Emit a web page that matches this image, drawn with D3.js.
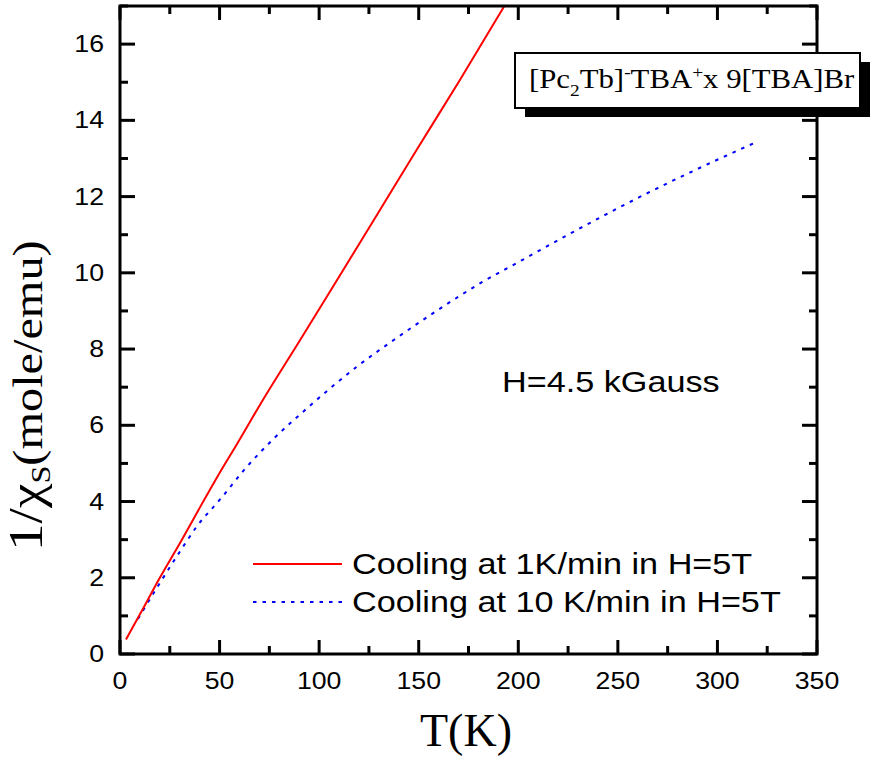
<!DOCTYPE html>
<html>
<head>
<meta charset="utf-8">
<script src="https://cdn.jsdelivr.net/npm/d3@7"></script>
<style>
  body { margin: 0; background: #fff; }
  .sans { font-family: "Liberation Sans", Arial, sans-serif; fill: #000; }
  .serif { font-family: "Liberation Serif", "Times New Roman", serif; fill: #000; }
</style>
</head>
<body>
<svg width="873" height="758"></svg>
<script>
// slow cooling, 1 K/min
const slowT = [3, 10, 20, 31, 39, 50, 59, 71, 90, 107, 130, 149, 170, 193];
const slowInvChi = [0.38, 1.04, 2.0, 2.99, 3.74, 4.75, 5.53, 6.6, 8.2, 9.64, 11.6, 13.23, 15.0, 17.0];
// fast cooling, 10 K/min
const fastT = [9, 20, 29, 38.5, 51, 63, 77, 94, 119, 140, 156, 182, 199, 225, 261, 298, 320];
const fastInvChi = [0.92, 1.86, 2.6, 3.34, 4.1, 4.87, 5.64, 6.45, 7.54, 8.33, 8.9, 9.76, 10.25, 11.0, 11.99, 12.92, 13.44];

const xTicks = [0, 50, 100, 150, 200, 250, 300, 350];
const yTicks = [0, 2, 4, 6, 8, 10, 12, 14, 16];
const legendLabels = ['Cooling at 1K/min in H=5T', 'Cooling at 10 K/min in H=5T'];

const svg = d3.select('svg');
const m = { left: 120, right: 817, top: 6, bottom: 654 };
const SX = 1.16; // sans text in the original is drawn a bit wide

const x = d3.scaleLinear().domain([0, 350]).range([m.left, m.right]);
const y = d3.scaleLinear().domain([0, 17]).range([m.bottom, m.top]);

function wideText(g, px, py, str, size, anchor) {
  return g.append('text')
    .attr('class', 'sans')
    .attr('transform', `translate(${px},${py}) scale(${SX},1)`)
    .attr('text-anchor', anchor || 'start')
    .style('font-size', `${size}px`)
    .text(str);
}

// curves
const line = d3.line().x(d => x(d[0])).y(d => y(d[1])).curve(d3.curveMonotoneX);

svg.append('path')
  .datum(fastT.map((t, i) => [t, fastInvChi[i]]))
  .attr('d', line)
  .attr('fill', 'none')
  .attr('stroke', '#0000ff')
  .attr('stroke-width', 2)
  .attr('stroke-dasharray', '3.5,6');

svg.append('path')
  .datum(slowT.map((t, i) => [t, slowInvChi[i]]))
  .attr('d', line)
  .attr('fill', 'none')
  .attr('stroke', '#ff0000')
  .attr('stroke-width', 2);

// frame ticks (all inward)
const tk = svg.append('g').attr('stroke', '#000').attr('stroke-width', 3);
d3.range(0, 351, 25).forEach((v) => {
  const len = v % 50 === 0 ? 14 : 8;
  tk.append('line').attr('x1', x(v)).attr('x2', x(v)).attr('y1', m.bottom).attr('y2', m.bottom - len);
  tk.append('line').attr('x1', x(v)).attr('x2', x(v)).attr('y1', m.top).attr('y2', m.top + len);
});
d3.range(0, 18, 1).forEach((v) => {
  const len = v % 2 === 0 ? 15 : 8;
  tk.append('line').attr('y1', y(v)).attr('y2', y(v)).attr('x1', m.left).attr('x2', m.left + len);
  tk.append('line').attr('y1', y(v)).attr('y2', y(v)).attr('x1', m.right).attr('x2', m.right - len);
});
svg.append('rect')
  .attr('x', m.left).attr('y', m.top)
  .attr('width', m.right - m.left).attr('height', m.bottom - m.top)
  .attr('fill', 'none').attr('stroke', '#000').attr('stroke-width', 3);

// tick labels
xTicks.forEach(v => wideText(svg, x(v), 689, String(v), 23, 'middle'));
yTicks.forEach(v => wideText(svg, 104, y(v) + 8, String(v), 23, 'end'));

// axis titles
svg.append('text')
  .attr('class', 'serif')
  .attr('x', 466).attr('y', 746)
  .attr('text-anchor', 'middle')
  .style('font-size', '46px')
  .text('T(K)');

const yl = svg.append('text')
  .attr('class', 'serif')
  .attr('transform', 'translate(42,551) rotate(-90) scale(1.15,1)')
  .attr('text-anchor', 'start');
yl.append('tspan').style('font-size', '48px').text('1/χ');
yl.append('tspan').style('font-size', '28px').attr('dy', 8).text('S');
yl.append('tspan').style('font-size', '42px').attr('dy', -8).text('(mole/emu)');

// compound label box with shadow
svg.append('rect').attr('x', 525).attr('y', 62).attr('width', 345).attr('height', 55).attr('fill', '#000');
svg.append('rect').attr('x', 515).attr('y', 53).attr('width', 345).attr('height', 55)
  .attr('fill', '#fff').attr('stroke', '#000').attr('stroke-width', 2);
const bt = svg.append('text')
  .attr('class', 'serif')
  .attr('transform', 'translate(529,88) scale(1.14,1)')
  .style('font-size', '27px');
bt.append('tspan').text('[Pc');
bt.append('tspan').attr('dy', 8).style('font-size', '17px').text('2');
bt.append('tspan').attr('dy', -8).text('Tb]');
bt.append('tspan').attr('dy', -10).style('font-size', '17px').text('-');
bt.append('tspan').attr('dy', 10).text('TBA');
bt.append('tspan').attr('dy', -10).style('font-size', '17px').text('+');
bt.append('tspan').attr('dy', 10).text('x 9[TBA]Br');

// field annotation
wideText(svg, 502, 392, 'H=4.5 kGauss', 29.5);

// legend
const legendY = [564, 602];
svg.append('line').attr('x1', 253).attr('x2', 342).attr('y1', legendY[0]).attr('y2', legendY[0])
  .attr('stroke', '#ff0000').attr('stroke-width', 2);
svg.append('line').attr('x1', 253).attr('x2', 342).attr('y1', legendY[1]).attr('y2', legendY[1])
  .attr('stroke', '#0000ff').attr('stroke-width', 2).attr('stroke-dasharray', '3.5,6');
legendLabels.forEach((t, i) => wideText(svg, 352, legendY[i] + 10, t, 29.5));
</script>
</body>
</html>
